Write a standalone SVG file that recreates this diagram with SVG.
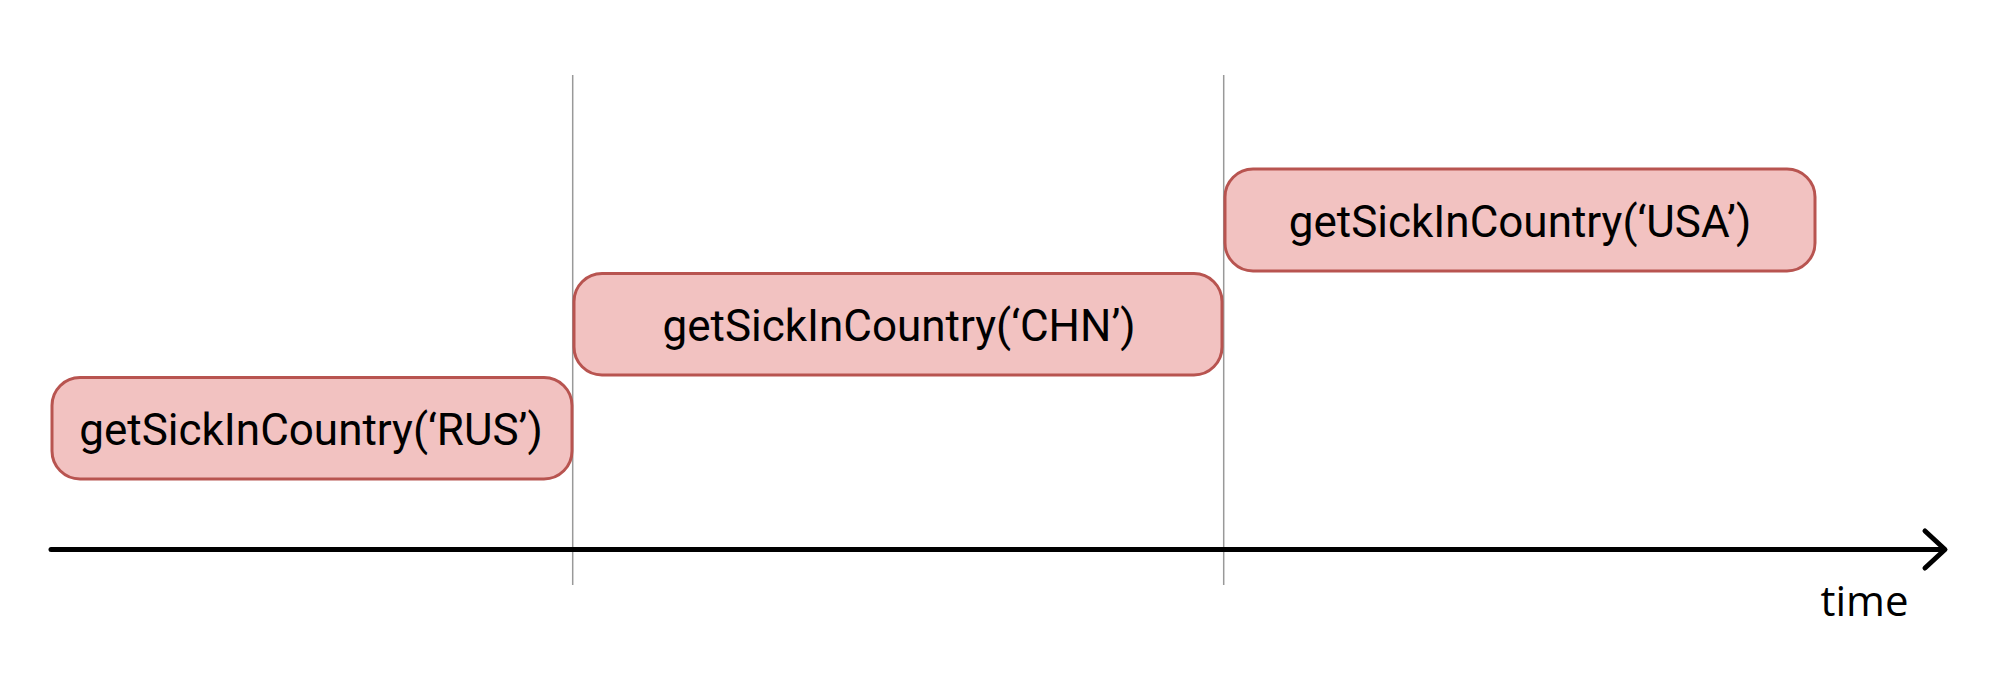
<svg xmlns="http://www.w3.org/2000/svg" width="2000" height="684" viewBox="0 0 2000 684">
  <style>
    .box { fill: #f2c2c1; stroke: #b85450; stroke-width: 3; }
    .lbl { font-family: Roboto, "Liberation Sans", sans-serif; font-size: 44px; fill: #000; text-anchor: middle; }
    .tick { stroke: #999; stroke-width: 1.5; fill: none; }
    .axis { stroke: #000; stroke-width: 5; fill: none; stroke-linecap: round; stroke-linejoin: round; }
  </style>
  <rect width="2000" height="684" fill="#fff"/>
  <g id="connectors">
    <line class="tick" x1="572.7" y1="75" x2="572.7" y2="585"/>
    <line class="tick" x1="1223.7" y1="75" x2="1223.7" y2="585"/>
    <line class="axis" x1="51" y1="549.5" x2="1943" y2="549.5"/>
    <polyline class="axis" points="1925,531 1945,549.5 1925,568"/>
  </g>
  <g id="node-rus">
    <rect class="box" x="52" y="377.5" width="520" height="101.5" rx="28" ry="28"/>
    <text class="lbl" x="311" y="445">getSickInCountry(‘RUS’)</text>
  </g>
  <g id="node-chn">
    <rect class="box" x="574" y="273.5" width="648" height="101.5" rx="28" ry="28"/>
    <text class="lbl" x="899" y="341">getSickInCountry(‘CHN’)</text>
  </g>
  <g id="node-usa">
    <rect class="box" x="1225" y="169" width="590" height="102" rx="28" ry="28"/>
    <text class="lbl" x="1520" y="237">getSickInCountry(‘USA’)</text>
  </g>
  <g id="label-time">
    <text x="1864.5" y="616" style="font-family: 'Open Sans', sans-serif; font-size: 42px; text-anchor: middle; fill: #000;">time</text>
  </g>
</svg>
